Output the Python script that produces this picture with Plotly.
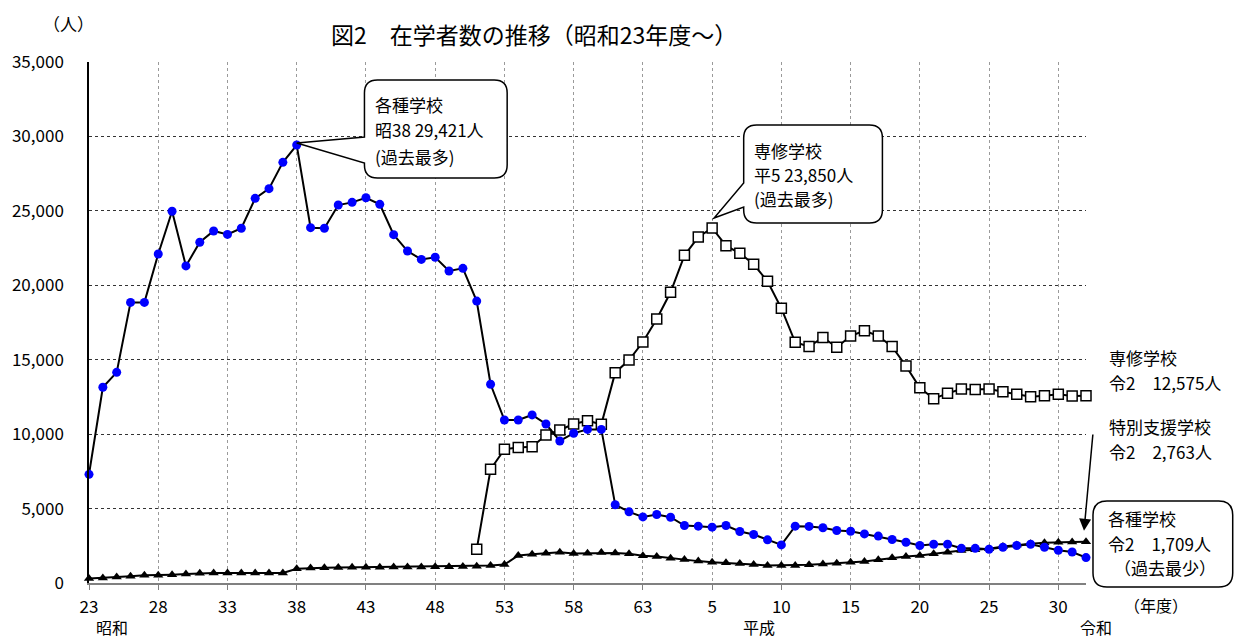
import plotly.graph_objects as go

# ---------------- data ----------------
years = list(range(1948, 2021))  # 昭和23年度 ～ 令和2年度 (73 years)
x_idx = list(range(len(years)))

tick_pos = [0, 5, 10, 15, 20, 25, 30, 35, 40, 45, 50, 55, 60, 65, 70]
tick_labels = ["23", "28", "33", "38", "43", "48", "53", "58", "63",
               "5", "10", "15", "20", "25", "30"]

# 各種学校
kakushu = [7300, 13150, 14150, 18850, 18850, 22100, 24970, 21300, 22890, 23650,
           23420, 23830, 25840, 26490, 28260, 29421, 23870, 23830, 25390, 25570,
           25880, 25440, 23400, 22300, 21740, 21880, 20960, 21140, 18940, 13350,
           10950, 10950, 11290, 10680, 9540, 10060, 10320, 10320, 5260, 4780,
           4440,
           4600, 4420, 3860, 3820, 3750, 3860, 3460, 3260, 2900, 2560,
           3820, 3800, 3710, 3530, 3480, 3300, 3150, 2920, 2740, 2520,
           2600, 2600, 2330, 2330, 2270, 2400, 2520, 2600, 2400, 2200,
           2080, 1709]

# 専修学校 (昭和51年度～)
senshu = [None] * 28 + [
    2260, 7640, 8980, 9110, 9160, 9940, 10280, 10680, 10900, 10660,
    14130, 14980, 16190,
    17730, 19530, 22010, 23240, 23850, 22660, 22150, 21410, 20270, 18450,
    16170, 15880, 16500, 15830, 16590, 16950, 16590, 15880, 14580, 13120,
    12380, 12740, 13030, 13000, 13030, 12850, 12680, 12520, 12580, 12680,
    12560, 12575]

# 特別支援学校
tokubetsu = [300, 340, 400, 450, 520, 520, 560, 600, 650, 670,
             680, 680, 680, 680, 680, 960, 1010, 1030, 1040, 1050,
             1060, 1060, 1070, 1080, 1080, 1090, 1100, 1110, 1120, 1170,
             1240, 1850, 1930, 2000, 2070, 1990, 2000, 2050, 2020, 1960,
             1830,
             1780, 1670, 1580, 1470, 1400, 1360, 1310, 1240, 1180, 1180,
             1180, 1230, 1280, 1320, 1400, 1440, 1560, 1690, 1780, 1850,
             1960, 2070, 2180, 2230, 2300, 2450, 2560, 2630, 2700, 2740,
             2750, 2763]

# ---------------- layout geometry ----------------
W, H = 1235, 639
L, R, T, B = 87, 1086, 62, 583
X_MAX = 72
Y_MAX = 35000
FONT = "Noto Sans CJK JP"


def px(x):
    return (x - L) / (R - L)


def py(y):
    return (B - y) / (B - T)


def data_px(i, v):
    return L + i * (R - L) / X_MAX, B - v * (B - T) / Y_MAX


def callout_path(x0, y0, x1, y1, r, wedge=None):
    def P(x, y):
        return f"{px(x):.5f},{py(y):.5f}"

    s = f"M{P(x0 + r, y0)} L{P(x1 - r, y0)} Q{P(x1, y0)} {P(x1, y0 + r)} "
    s += f"L{P(x1, y1 - r)} Q{P(x1, y1)} {P(x1 - r, y1)} "
    s += f"L{P(x0 + r, y1)} Q{P(x0, y1)} {P(x0, y1 - r)} "
    if wedge:
        w1, w2, tx, ty = wedge
        s += f"L{P(x0, w2)} L{P(tx, ty)} L{P(x0, w1)} "
    s += f"L{P(x0, y0 + r)} Q{P(x0, y0)} {P(x0 + r, y0)} Z"
    return s


fig = go.Figure()

fig.add_trace(go.Scatter(
    x=x_idx, y=senshu, mode="lines+markers", name="専修学校",
    line=dict(color="black", width=2),
    marker=dict(symbol="square", size=10, color="white",
                line=dict(color="black", width=1.5)),
    connectgaps=False, cliponaxis=False))

fig.add_trace(go.Scatter(
    x=x_idx, y=tokubetsu, mode="lines+markers", name="特別支援学校",
    line=dict(color="black", width=2),
    marker=dict(symbol="triangle-up", size=9, color="black"),
    cliponaxis=False))

fig.add_trace(go.Scatter(
    x=x_idx, y=kakushu, mode="lines+markers", name="各種学校",
    line=dict(color="black", width=2),
    marker=dict(symbol="circle", size=9, color="#0000FF"),
    cliponaxis=False))

# ---------------- callout shapes ----------------
i_max_k = kakushu.index(max(kakushu))
tx1, ty1 = data_px(i_max_k, kakushu[i_max_k])
i_max_s = max((v, i) for i, v in enumerate(senshu) if v is not None)[1]
tx2, ty2 = data_px(i_max_s, senshu[i_max_s])

shapes = [
    dict(type="path", xref="paper", yref="paper",
         path=callout_path(363, 80, 506, 178, 13, (137, 163, tx1, ty1 - 2)),
         line=dict(color="black", width=1.5), fillcolor="white", layer="above"),
    dict(type="path", xref="paper", yref="paper",
         path=callout_path(743, 125, 882, 223, 13, (183, 207, tx2 + 2, ty2 - 10)),
         line=dict(color="black", width=1.5), fillcolor="white", layer="above"),
    dict(type="path", xref="paper", yref="paper",
         path=callout_path(1093, 501, 1233, 587, 14),
         line=dict(color="black", width=1.5), fillcolor="white", layer="above"),
]

annotations = []


def txt(x, y, s, size=17, anchor="left"):
    annotations.append(dict(
        x=px(x), y=py(y), xref="paper", yref="paper", text=s,
        showarrow=False, xanchor=anchor, yanchor="middle",
        font=dict(family=FONT, size=size, color="black")))


# title & unit
txt(533, 34, "図2　在学者数の推移（昭和23年度～）", size=23, anchor="center")
txt(66, 24, "（人）", size=17, anchor="center")

# callout texts
txt(372, 104, "各種学校")
txt(372, 130, "昭38 29,421人")
txt(372, 156, "(過去最多)")

txt(751, 150, "専修学校")
txt(751, 174, "平5 23,850人")
txt(751, 198, "(過去最多)")

txt(1107, 357, "専修学校")
txt(1107, 382, "令2　12,575人")
txt(1107, 426, "特別支援学校")
txt(1107, 451, "令2　2,763人")

txt(1106, 518, "各種学校")
txt(1106, 543, "令2　1,709人")
txt(1112, 567, "（過去最少）")

# era labels
txt(110, 627, "昭和", size=16, anchor="center")
txt(758, 627, "平成", size=16, anchor="center")
txt(1096, 627, "令和", size=16, anchor="center")
txt(1156, 605, "（年度）", size=16, anchor="center")

# arrow to 特別支援学校 R2
tip_x, tip_y = data_px(72, tokubetsu[-1])
tip_x, tip_y = tip_x - 2, tip_y - 11
annotations.append(dict(
    x=px(tip_x), y=py(tip_y), xref="paper", yref="paper",
    ax=1093 - tip_x, ay=433 - tip_y, axref="pixel", ayref="pixel",
    showarrow=True, arrowhead=2, arrowsize=1.6, arrowwidth=1.5,
    arrowcolor="black", text=""))

fig.update_layout(
    width=W, height=H,
    margin=dict(l=L, r=W - R, t=T, b=H - B),
    paper_bgcolor="white", plot_bgcolor="white",
    showlegend=False,
    shapes=shapes, annotations=annotations,
    font=dict(family=FONT, size=17, color="black"),
)

fig.update_xaxes(
    range=[0, X_MAX], tickvals=tick_pos, ticktext=tick_labels,
    showgrid=True, gridcolor="#9a9a9a", griddash="dot", gridwidth=1,
    showline=True, linecolor="#808080", linewidth=1.5,
    ticks="outside", ticklen=5, tickcolor="#808080",
    zeroline=False, tickfont=dict(family=FONT, size=17),
    ticklabelstandoff=3,
)
fig.update_yaxes(
    range=[0, Y_MAX], dtick=5000, tickformat=",",
    showgrid=True, gridcolor="#333333", griddash="dot", gridwidth=1,
    showline=True, linecolor="black", linewidth=1.5,
    ticks="outside", ticklen=20, tickcolor="rgba(0,0,0,0)",
    zeroline=False, tickfont=dict(family=FONT, size=17),
)

fig.write_html(
    "out.html",
    config={"displayModeBar": False},
    post_script="document.body.style.margin='0';"
                "document.body.style.overflow='hidden';",
)
